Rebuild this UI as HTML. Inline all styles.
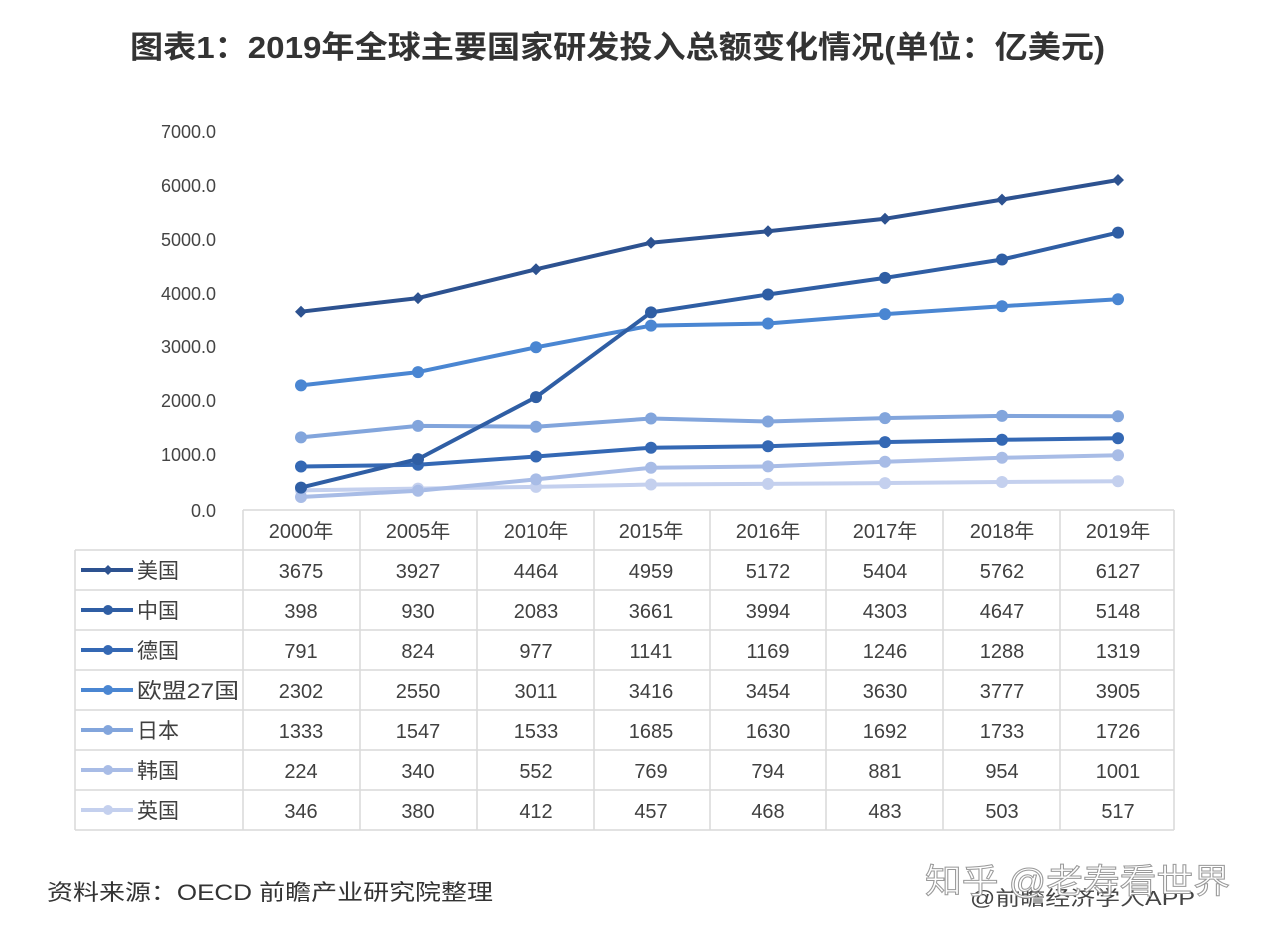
<!DOCTYPE html>
<html><head><meta charset="utf-8"><style>
body{margin:0;background:#fff;}
svg text{font-family:"Liberation Sans","Noto Sans CJK SC",sans-serif;}
</style></head><body>
<svg width="1264" height="932" viewBox="0 0 1264 932" xmlns="http://www.w3.org/2000/svg">
<rect width="1264" height="932" fill="#fff"/>
<text x="130" y="58" font-size="31" font-weight="bold" fill="#333" textLength="975" lengthAdjust="spacingAndGlyphs">图表1：2019年全球主要国家研发投入总额变化情况(单位：亿美元)</text>
<g font-size="18" fill="#444" text-anchor="end">
<text x="216" y="138">7000.0</text><text x="216" y="192">6000.0</text><text x="216" y="246">5000.0</text>
<text x="216" y="300">4000.0</text><text x="216" y="353">3000.0</text><text x="216" y="407">2000.0</text>
<text x="216" y="461">1000.0</text><text x="216" y="517">0.0</text>
</g>
<g fill="none" stroke-width="4" stroke-linejoin="round">
<polyline stroke="#c4d0ee" points="301,490.4 418,488.6 536,486.9 651,484.5 768,483.9 885,483.1 1002,482 1118,481.2"/>
<polyline stroke="#a8bce6" points="301,497 418,490.7 536,479.4 651,467.7 768,466.4 885,461.7 1002,457.8 1118,455.2"/>
<polyline stroke="#82a5dc" points="301,437.4 418,425.9 536,426.7 651,418.5 768,421.5 885,418.1 1002,415.9 1118,416.3"/>
<polyline stroke="#4a86d2" points="301,385.4 418,372.1 536,347.3 651,325.6 768,323.5 885,314.1 1002,306.2 1118,299.3"/>
<polyline stroke="#3468b4" points="301,466.5 418,464.8 536,456.5 651,447.7 768,446.2 885,442.1 1002,439.8 1118,438.2"/>
<polyline stroke="#2f5ea4" points="301,487.6 418,459.1 536,397.1 651,312.4 768,294.5 885,277.9 1002,259.5 1118,232.6"/>
<polyline stroke="#2d5290" points="301,311.7 418,298.1 536,269.3 651,242.7 768,231.3 885,218.8 1002,199.6 1118,180"/>
</g>
<g>
<g fill="#c4d0ee"><circle cx="301" cy="490.4" r="6"/><circle cx="418" cy="488.6" r="6"/><circle cx="536" cy="486.9" r="6"/><circle cx="651" cy="484.5" r="6"/><circle cx="768" cy="483.9" r="6"/><circle cx="885" cy="483.1" r="6"/><circle cx="1002" cy="482" r="6"/><circle cx="1118" cy="481.2" r="6"/></g>
<g fill="#a8bce6"><circle cx="301" cy="497" r="6"/><circle cx="418" cy="490.7" r="6"/><circle cx="536" cy="479.4" r="6"/><circle cx="651" cy="467.7" r="6"/><circle cx="768" cy="466.4" r="6"/><circle cx="885" cy="461.7" r="6"/><circle cx="1002" cy="457.8" r="6"/><circle cx="1118" cy="455.2" r="6"/></g>
<g fill="#82a5dc"><circle cx="301" cy="437.4" r="6"/><circle cx="418" cy="425.9" r="6"/><circle cx="536" cy="426.7" r="6"/><circle cx="651" cy="418.5" r="6"/><circle cx="768" cy="421.5" r="6"/><circle cx="885" cy="418.1" r="6"/><circle cx="1002" cy="415.9" r="6"/><circle cx="1118" cy="416.3" r="6"/></g>
<g fill="#4a86d2"><circle cx="301" cy="385.4" r="6"/><circle cx="418" cy="372.1" r="6"/><circle cx="536" cy="347.3" r="6"/><circle cx="651" cy="325.6" r="6"/><circle cx="768" cy="323.5" r="6"/><circle cx="885" cy="314.1" r="6"/><circle cx="1002" cy="306.2" r="6"/><circle cx="1118" cy="299.3" r="6"/></g>
<g fill="#3468b4"><circle cx="301" cy="466.5" r="6"/><circle cx="418" cy="464.8" r="6"/><circle cx="536" cy="456.5" r="6"/><circle cx="651" cy="447.7" r="6"/><circle cx="768" cy="446.2" r="6"/><circle cx="885" cy="442.1" r="6"/><circle cx="1002" cy="439.8" r="6"/><circle cx="1118" cy="438.2" r="6"/></g>
<g fill="#2f5ea4"><circle cx="301" cy="487.6" r="6"/><circle cx="418" cy="459.1" r="6"/><circle cx="536" cy="397.1" r="6"/><circle cx="651" cy="312.4" r="6"/><circle cx="768" cy="294.5" r="6"/><circle cx="885" cy="277.9" r="6"/><circle cx="1002" cy="259.5" r="6"/><circle cx="1118" cy="232.6" r="6"/></g>
<g fill="#2d5290"><path d="M301 305.7l6 6-6 6-6-6z M418 292.1l6 6-6 6-6-6z M536 263.3l6 6-6 6-6-6z M651 236.7l6 6-6 6-6-6z M768 225.3l6 6-6 6-6-6z M885 212.8l6 6-6 6-6-6z M1002 193.6l6 6-6 6-6-6z M1118 174l6 6-6 6-6-6z"/></g>
</g>
<g stroke="#d9d9d9" stroke-width="1.5" fill="none">
<line x1="243" y1="510" x2="1174" y2="510"/>
<line x1="75" y1="550" x2="1174" y2="550"/><line x1="75" y1="590" x2="1174" y2="590"/>
<line x1="75" y1="630" x2="1174" y2="630"/><line x1="75" y1="670" x2="1174" y2="670"/>
<line x1="75" y1="710" x2="1174" y2="710"/><line x1="75" y1="750" x2="1174" y2="750"/>
<line x1="75" y1="790" x2="1174" y2="790"/><line x1="75" y1="830" x2="1174" y2="830"/>
<line x1="75" y1="550" x2="75" y2="830"/>
<line x1="243" y1="510" x2="243" y2="830"/><line x1="360" y1="510" x2="360" y2="830"/>
<line x1="477" y1="510" x2="477" y2="830"/><line x1="594" y1="510" x2="594" y2="830"/>
<line x1="710" y1="510" x2="710" y2="830"/><line x1="826" y1="510" x2="826" y2="830"/>
<line x1="943" y1="510" x2="943" y2="830"/><line x1="1060" y1="510" x2="1060" y2="830"/>
<line x1="1174" y1="510" x2="1174" y2="830"/>
</g>
<g font-size="20" fill="#404040" text-anchor="middle">
<text x="301" y="538">2000年</text><text x="418" y="538">2005年</text><text x="536" y="538">2010年</text><text x="651" y="538">2015年</text><text x="768" y="538">2016年</text><text x="885" y="538">2017年</text><text x="1002" y="538">2018年</text><text x="1118" y="538">2019年</text>
<text x="301" y="578">3675</text><text x="418" y="578">3927</text><text x="536" y="578">4464</text><text x="651" y="578">4959</text><text x="768" y="578">5172</text><text x="885" y="578">5404</text><text x="1002" y="578">5762</text><text x="1118" y="578">6127</text>
<text x="301" y="618">398</text><text x="418" y="618">930</text><text x="536" y="618">2083</text><text x="651" y="618">3661</text><text x="768" y="618">3994</text><text x="885" y="618">4303</text><text x="1002" y="618">4647</text><text x="1118" y="618">5148</text>
<text x="301" y="658">791</text><text x="418" y="658">824</text><text x="536" y="658">977</text><text x="651" y="658">1141</text><text x="768" y="658">1169</text><text x="885" y="658">1246</text><text x="1002" y="658">1288</text><text x="1118" y="658">1319</text>
<text x="301" y="698">2302</text><text x="418" y="698">2550</text><text x="536" y="698">3011</text><text x="651" y="698">3416</text><text x="768" y="698">3454</text><text x="885" y="698">3630</text><text x="1002" y="698">3777</text><text x="1118" y="698">3905</text>
<text x="301" y="738">1333</text><text x="418" y="738">1547</text><text x="536" y="738">1533</text><text x="651" y="738">1685</text><text x="768" y="738">1630</text><text x="885" y="738">1692</text><text x="1002" y="738">1733</text><text x="1118" y="738">1726</text>
<text x="301" y="778">224</text><text x="418" y="778">340</text><text x="536" y="778">552</text><text x="651" y="778">769</text><text x="768" y="778">794</text><text x="885" y="778">881</text><text x="1002" y="778">954</text><text x="1118" y="778">1001</text>
<text x="301" y="818">346</text><text x="418" y="818">380</text><text x="536" y="818">412</text><text x="651" y="818">457</text><text x="768" y="818">468</text><text x="885" y="818">483</text><text x="1002" y="818">503</text><text x="1118" y="818">517</text>
</g>
<g stroke-width="4">
<line x1="81" y1="570" x2="133" y2="570" stroke="#2d5290"/><path d="M108 565l5 5-5 5-5-5z" fill="#2d5290"/>
<line x1="81" y1="610" x2="133" y2="610" stroke="#2f5ea4"/><circle cx="108" cy="610" r="5" fill="#2f5ea4"/>
<line x1="81" y1="650" x2="133" y2="650" stroke="#3468b4"/><circle cx="108" cy="650" r="5" fill="#3468b4"/>
<line x1="81" y1="690" x2="133" y2="690" stroke="#4a86d2"/><circle cx="108" cy="690" r="5" fill="#4a86d2"/>
<line x1="81" y1="730" x2="133" y2="730" stroke="#82a5dc"/><circle cx="108" cy="730" r="5" fill="#82a5dc"/>
<line x1="81" y1="770" x2="133" y2="770" stroke="#a8bce6"/><circle cx="108" cy="770" r="5" fill="#a8bce6"/>
<line x1="81" y1="810" x2="133" y2="810" stroke="#c4d0ee"/><circle cx="108" cy="810" r="5" fill="#c4d0ee"/>
</g>
<g font-size="21" fill="#404040">
<text x="137" y="578">美国</text><text x="137" y="618">中国</text><text x="137" y="658">德国</text>
<text x="137" y="698" textLength="102" lengthAdjust="spacingAndGlyphs">欧盟27国</text>
<text x="137" y="738">日本</text><text x="137" y="778">韩国</text><text x="137" y="818">英国</text>
</g>
<text x="47" y="900" font-size="22" fill="#333" textLength="446" lengthAdjust="spacingAndGlyphs">资料来源：OECD 前瞻产业研究院整理</text>
<text x="970" y="905" font-size="20" fill="#444" textLength="225" lengthAdjust="spacingAndGlyphs">@前瞻经济学人APP</text>
<text x="925" y="893" font-size="34" fill="#fff" stroke="#999" stroke-width="1" textLength="305" lengthAdjust="spacingAndGlyphs">知乎 @老寿看世界</text>
</svg>
</body></html>
